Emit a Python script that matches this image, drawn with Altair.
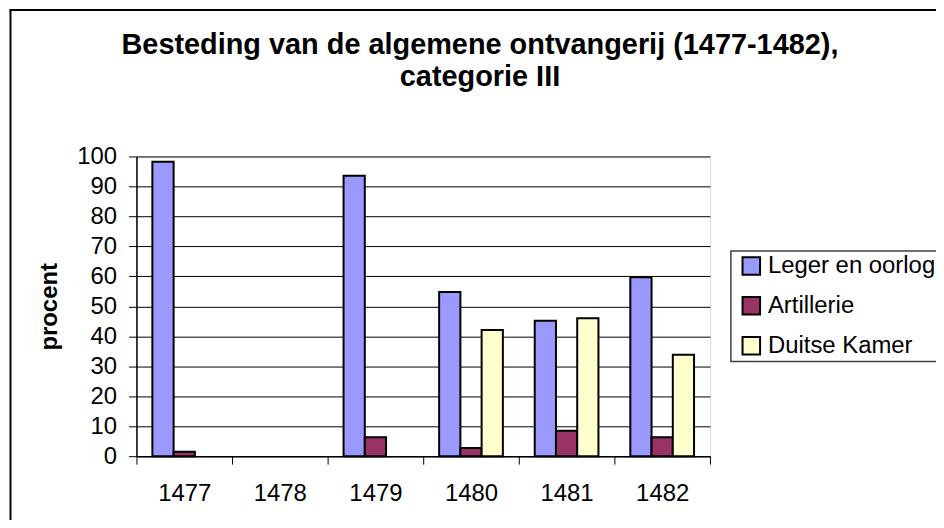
import altair as alt
import pandas as pd

years = ["1477", "1478", "1479", "1480", "1481", "1482"]
series = ["Leger en oorlog", "Artillerie", "Duitse Kamer"]
leger = [98.2, None, 93.6, 54.8, 45.2, 59.7]
artillerie = [1.5, None, 6.3, 2.7, 8.5, 6.3]
duitse = [None, None, None, 42.1, 46.0, 33.8]
colors = ["#9999FF", "#993366", "#FFFFCC"]
y_ticks = list(range(0, 101, 10))
title_lines = ["Besteding van de algemene ontvangerij (1477-1482),", "categorie III"]

rows = []
for s, vals in zip(series, [leger, artillerie, duitse]):
    for yr, v in zip(years, vals):
        if v is not None:
            rows.append({"jaar": yr, "reeks": s, "procent": v})
df = pd.DataFrame(rows)

FONT = "Liberation Sans, Arial, sans-serif"

bars = alt.Chart(df).mark_bar(stroke="black", strokeWidth=2).encode(
    x=alt.X(
        "jaar:N",
        sort=years,
        scale=alt.Scale(domain=years, paddingInner=0, paddingOuter=0),
        axis=alt.Axis(
            title=None, labelAngle=0, tickBand="extent", grid=False,
            domainColor="black", domainWidth=1.5, tickColor="black", tickSize=8,
            labelFont=FONT, labelFontSize=24, labelColor="black",
            labelBaseline="alphabetic", labelPadding=37,
        ),
    ),
    xOffset=alt.XOffset(
        "reeks:N", scale=alt.Scale(domain=series, paddingInner=0, paddingOuter=0.75)
    ),
    y=alt.Y(
        "procent:Q",
        scale=alt.Scale(domain=[0, 100], nice=False),
        axis=alt.Axis(
            values=y_ticks, title="procent", grid=True, gridColor="black", gridWidth=1,
            domainColor="black", domainWidth=1.5, tickColor="black", tickSize=8,
            labelFont=FONT, labelFontSize=24, labelColor="black", labelPadding=12,
            titleFont=FONT, titleFontSize=24, titleFontWeight="bold", titleColor="black",
            titleAngle=270, titleX=-80, titleY=150.5, titleBaseline="alphabetic",
            titleAlign="center",
        ),
    ),
    color=alt.Color(
        "reeks:N",
        title=None,
        scale=alt.Scale(domain=series, range=colors),
        legend=alt.Legend(
            orient="none", legendX=597, legendY=95, direction="vertical",
            symbolType="square", symbolSize=310, symbolStrokeColor="black",
            symbolStrokeWidth=2, labelFont=FONT, labelFontSize=24, labelColor="black",
            labelOffset=4.7, labelLimit=400, padding=3, symbolOffset=5.5, rowPadding=14,
            strokeColor="transparent",
        ),
    ),
)

frame_data = alt.Data(values=[{"k": 1}])
left_edge = alt.Chart(frame_data).mark_rule(color="black", strokeWidth=2).encode(
    x=alt.value(-126.5), y=alt.value(-147), y2=alt.value(400)
)
top_edge = alt.Chart(frame_data).mark_rule(color="black", strokeWidth=2).encode(
    x=alt.value(-127.5), x2=alt.value(900), y=alt.value(-147)
)
legend_box = alt.Chart(frame_data).mark_rect(
    fill="white", stroke="#404040", strokeWidth=1.5
).encode(
    x=alt.value(597), x2=alt.value(900), y=alt.value(95), y2=alt.value(206)
)

chart = alt.layer(bars, left_edge, top_edge, legend_box).properties(
    width=576,
    height=301,
    autosize="none",
    padding={"left": 129, "top": 148, "right": 227, "bottom": 63},
    title=alt.TitleParams(
        text=title_lines, font=FONT, fontSize=29, fontWeight="bold", color="black",
        anchor="middle", frame="group", dx=57, offset=-83, lineHeight=32,
    ),
).configure_view(
    fill="#C0C0C0", stroke="#808080", strokeWidth=2
).configure(background="white")

chart.save("out.html", embed_options={"renderer": "svg", "actions": False})
